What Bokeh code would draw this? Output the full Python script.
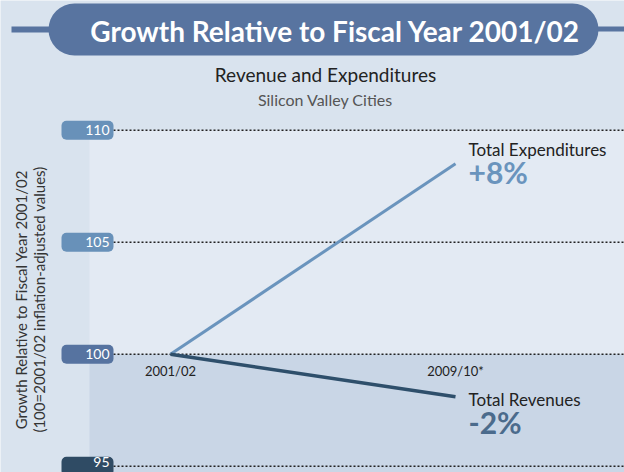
import math
from bokeh.plotting import figure
from bokeh.models import Range1d, BoxAnnotation
from bokeh.core.properties import value
from bokeh.embed import file_html
from bokeh.resources import INLINE

# ---------------- data ----------------
periods = ["2001/02", "2009/10*"]
period_x = [2001, 2009]
expenditures = [100, 108.5]
revenues = [100, 98.1]
y_ticks = [95, 100, 105, 110]
y_tick_labels = ["95", "100", "105", "110"]
badge_colors = ["#2f4b64", "#5673a0", "#6891b9", "#6891b9"]
series_names = ["Total Expenditures", "Total Revenues"]
series_changes = ["+8%", "-2%"]
title = "Growth Relative to Fiscal Year 2001/02"
subtitle = "Revenue and Expenditures"
subsubtitle = "Silicon Valley Cities"
ytitle1 = "Growth Relative to Fiscal Year 2001/02"
ytitle2 = "(100=2001/02 inflation-adjusted values)"

# ---------------- layout helpers (page pixel -> data) ----------------
OFF = 0
W, H = 624, 472
X_REF_PX, PX_PER_YR = 170.0, 35.625
Y_REF_PX, PX_PER_UNIT = 353.7, 22.4


def px2x(px):
    return period_x[0] + (px - X_REF_PX) / PX_PER_YR


def px2y(py):
    return 100 + (Y_REF_PX - py) / PX_PER_UNIT


FONT = value("Lato")
BG = "#d9e3ee"

p = figure(width=W, height=H,
           x_range=Range1d(px2x(OFF), px2x(OFF + W)),
           y_range=Range1d(px2y(OFF + H), px2y(OFF)),
           output_backend="svg", toolbar_location=None,
           x_axis_location=None, y_axis_location=None,
           min_border=0, background_fill_color=BG, border_fill_color=BG,
           outline_line_color=None)
p.grid.visible = False

# plot area backgrounds
p.add_layout(BoxAnnotation(left=px2x(89), right=px2x(700), top=y_ticks[3], bottom=y_ticks[1],
                           fill_color="#e3eaf3", fill_alpha=1, line_color=None, level="underlay"))
p.add_layout(BoxAnnotation(left=px2x(89), right=px2x(700), top=y_ticks[1], bottom=px2y(520),
                           fill_color="#c9d6e6", fill_alpha=1, line_color=None, level="underlay"))

# title banner
PILL = "#5874a0"
p.add_layout(BoxAnnotation(left=px2x(11), right=px2x(60), top=px2y(26), bottom=px2y(32),
                           fill_color=PILL, fill_alpha=1, line_color=None, level="underlay"))
p.add_layout(BoxAnnotation(left=px2x(580), right=px2x(640), top=px2y(26), bottom=px2y(31),
                           fill_color=PILL, fill_alpha=1, line_color=None, level="underlay"))
p.add_layout(BoxAnnotation(left=px2x(48), right=px2x(598), top=px2y(3), bottom=px2y(55),
                           fill_color=PILL, fill_alpha=1, line_color=None, level="underlay",
                           border_radius=26))

p.text(x=[px2x(335)], y=[px2y(30)], text=[title], text_font=FONT, text_font_style="bold",
       text_font_size="28px", text_color="white", text_align="center", text_baseline="middle")
p.text(x=[px2x(325)], y=[px2y(74)], text=[subtitle], text_font=FONT,
       text_font_size="19px", text_color="#222222", text_align="center", text_baseline="middle")
p.text(x=[px2x(325)], y=[px2y(99)], text=[subsubtitle], text_font=FONT,
       text_font_size="16px", text_color="#555555", text_align="center", text_baseline="middle")

# y-axis titles
p.text(x=[px2x(20)], y=[px2y(299)], text=[ytitle1], angle=math.pi / 2, text_font=FONT,
       text_font_size="15px", text_color="#333333", text_align="center", text_baseline="middle")
p.text(x=[px2x(38)], y=[px2y(299)], text=[ytitle2], angle=math.pi / 2, text_font=FONT,
       text_font_size="15px", text_color="#333333", text_align="center", text_baseline="middle")

# gridlines
p.segment(x0=[px2x(113)] * len(y_ticks), x1=[px2x(640)] * len(y_ticks), y0=y_ticks, y1=y_ticks,
          line_color="#222222", line_width=1.5, line_dash="2 2")

# tick badges
p.rect(x=[px2x(87)] * len(y_ticks), y=y_ticks, width=52, height=19,
       width_units="screen", height_units="screen",
       fill_color=badge_colors, line_color=None, border_radius=5)
# bottom label nudged up slightly so it stays inside the page
p.text(x=[px2x(109)], y=y_ticks[:1], text=y_tick_labels[:1], text_font=FONT, y_offset=-4,
       text_font_size="14px", text_color="white", text_align="right", text_baseline="middle")
p.text(x=[px2x(109)] * (len(y_ticks) - 1), y=y_ticks[1:], text=y_tick_labels[1:], text_font=FONT,
       text_font_size="14px", text_color="white", text_align="right", text_baseline="middle")

# series lines
EXP_C = "#6a94bd"
REV_C = "#2e4f6b"
p.line(period_x, expenditures, line_width=3, line_color=EXP_C)
p.line(period_x, revenues, line_width=3.5, line_color=REV_C)

# x labels
p.text(x=period_x, y=[px2y(370)] * 2, text=periods, text_font=FONT,
       text_font_size="13px", text_color="#222222", text_align="center", text_baseline="middle")

# series labels
lx = px2x(468)
p.text(x=[lx, lx], y=[px2y(149), px2y(399)], text=series_names, text_font=FONT,
       text_font_size="17px", text_color="#222222", text_align="left", text_baseline="middle")
p.text(x=[lx, lx], y=[px2y(171), px2y(421)], text=series_changes, text_font=FONT,
       text_font_style="bold", text_font_size="30px", text_color=[EXP_C, "#4b6b8c"],
       text_align="left", text_baseline="middle")

open("out.html", "w").write(file_html(p, INLINE))
